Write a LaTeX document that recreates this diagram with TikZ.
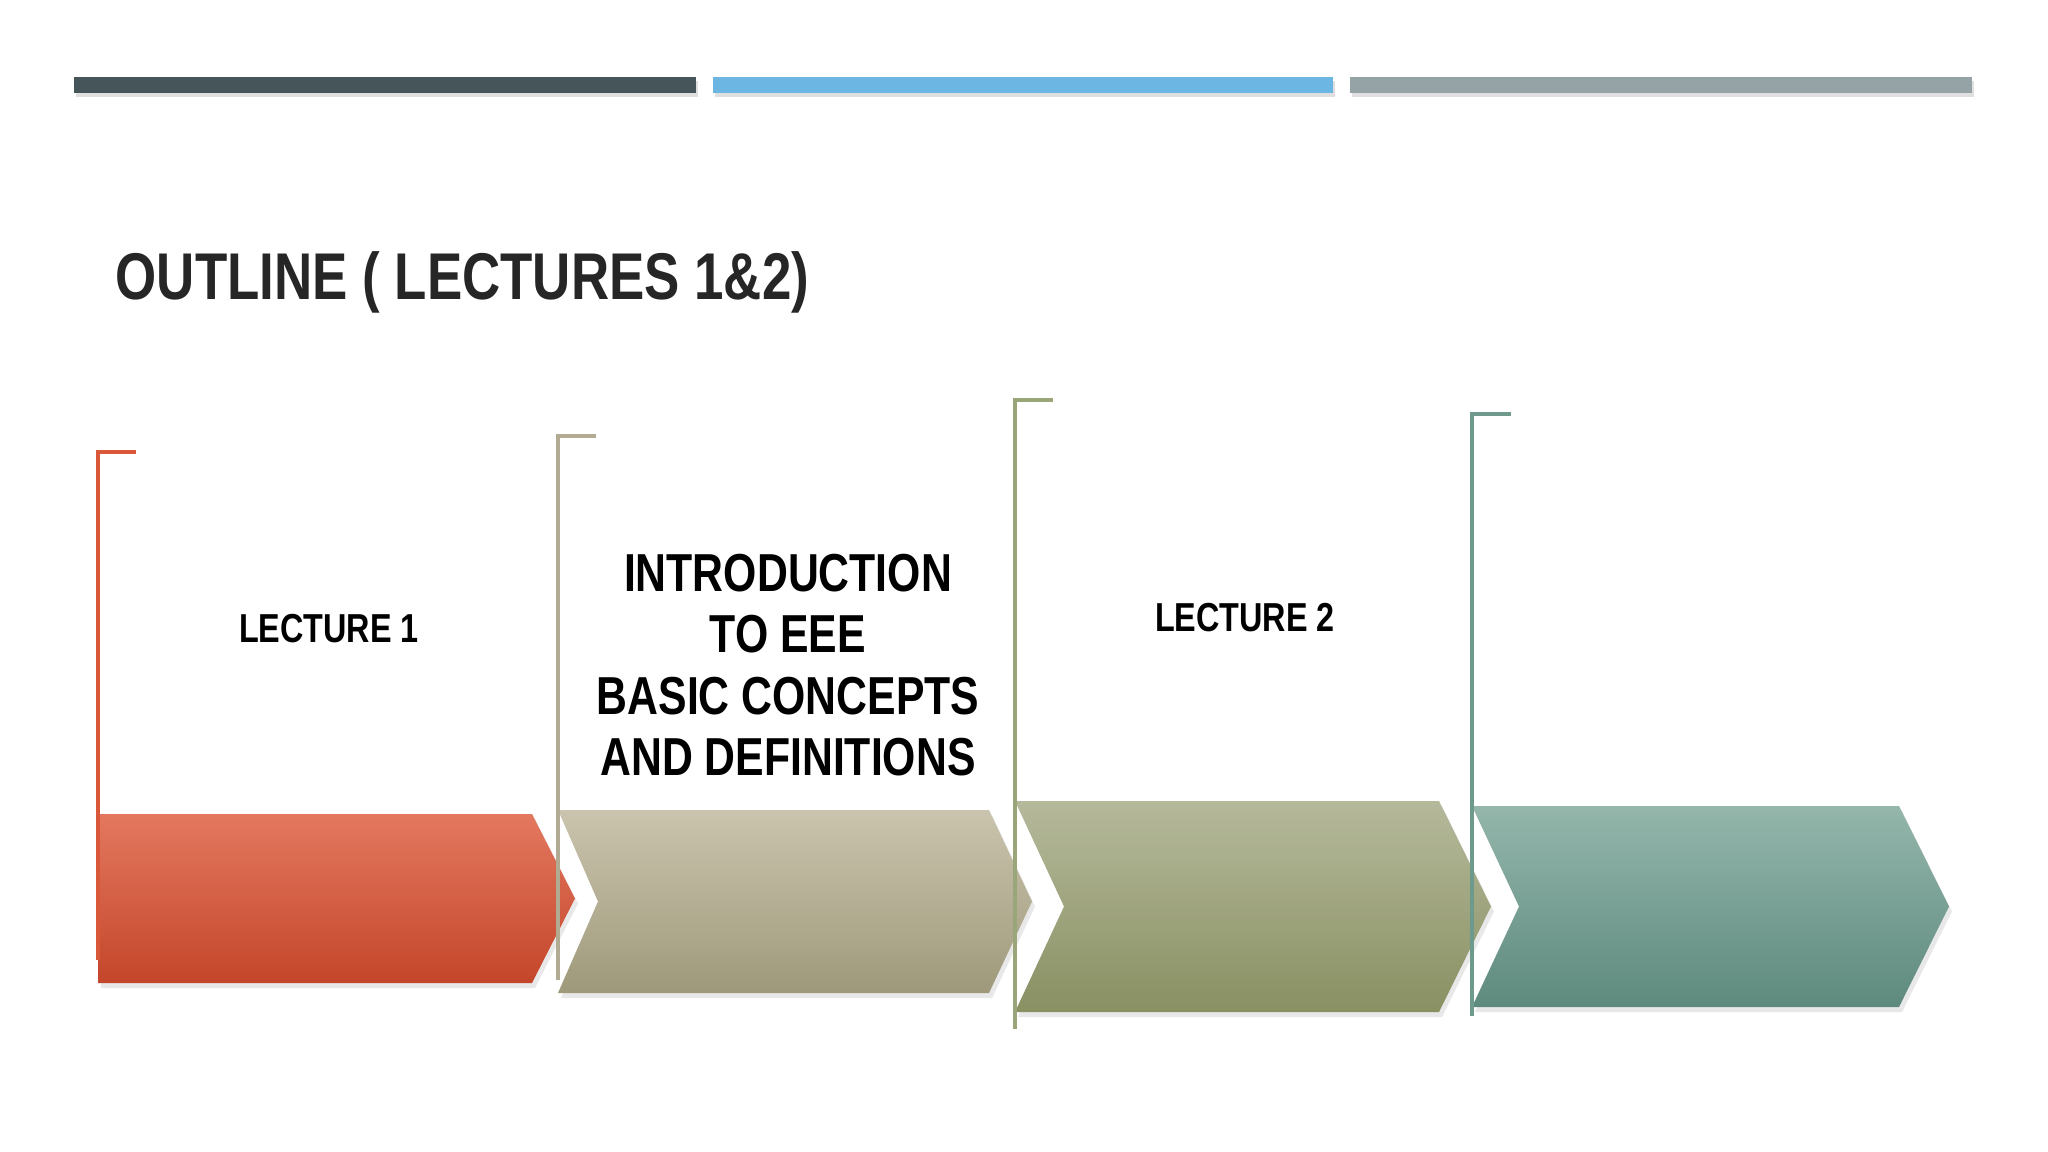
\documentclass[tikz,border=0pt]{standalone}
\usepackage{fontspec}
\setmainfont{Liberation Sans}
\newfontfamily\condfont[FakeStretch=0.8]{Liberation Sans}
\usetikzlibrary{shadows}
\definecolor{barA}{HTML}{46555A}
\definecolor{barB}{HTML}{6CB6E4}
\definecolor{barC}{HTML}{95A3A6}
\definecolor{titlecol}{HTML}{262626}
\definecolor{redT}{HTML}{E3785F}
\definecolor{redB}{HTML}{C4462A}
\definecolor{redL}{HTML}{D9583A}
\definecolor{tanT}{HTML}{CAC4AE}
\definecolor{tanB}{HTML}{9F997B}
\definecolor{tanL}{HTML}{B0AB92}
\definecolor{oliT}{HTML}{B5B99B}
\definecolor{oliB}{HTML}{899062}
\definecolor{oliL}{HTML}{9AA57A}
\definecolor{teaT}{HTML}{94B6AB}
\definecolor{teaB}{HTML}{5E8A7E}
\definecolor{teaL}{HTML}{6F998D}
\tikzset{
  topbar/.style={draw=none, drop shadow={opacity=0.25, shadow xshift=0.02cm, shadow yshift=-0.04cm}},
  chev/.style={draw=none, drop shadow={opacity=0.18, shadow xshift=0.03cm, shadow yshift=-0.05cm}},
  brk/.style={line width=1.1pt},
  lbl/.style={inner sep=0, align=center, text=black}
}
\begin{document}
\begin{tikzpicture}[x=0.01cm, y=0.01cm]
\useasboundingbox[fill=white] (0,0) rectangle (2048,-1152);
% top bars
\fill[barA, topbar] (74,-77) rectangle (696,-93);
\fill[barB, topbar] (713,-77) rectangle (1333,-93);
\fill[barC, topbar] (1350,-77) rectangle (1972,-93);
% title
\node[anchor=base west, inner sep=0, text=titlecol,
      font={\condfont\bfseries\fontsize{18.8}{22}\selectfont}] (title) at (115,-300)
  {OUTLINE ( LECTURES 1\&2)};
% chevrons
\path[chev, top color=redT, bottom color=redB]
  (98,-814) -- (532,-814) -- (575,-898.5) -- (532,-983) -- (98,-983) -- cycle;
\path[chev, top color=tanT, bottom color=tanB]
  (558,-810) -- (989,-810) -- (1032,-901.5) -- (989,-993) -- (558,-993) -- (598,-901.5) -- cycle;
\path[chev, top color=oliT, bottom color=oliB]
  (1015,-801) -- (1439,-801) -- (1491,-906.5) -- (1439,-1012) -- (1015,-1012) -- (1064,-906.5) -- cycle;
\path[chev, top color=teaT, bottom color=teaB]
  (1472,-806) -- (1899,-806) -- (1949,-906.5) -- (1899,-1007) -- (1472,-1007) -- (1519,-906.5) -- cycle;
% brackets
\draw[brk, redL] (136,-452) -- (98,-452) -- (98,-960);
\draw[brk, tanL] (596,-436) -- (558,-436) -- (558,-980);
\draw[brk, oliL] (1053,-400) -- (1015,-400) -- (1015,-1029);
\draw[brk, teaL] (1511,-414) -- (1472,-414) -- (1472,-1016);
% labels
\node[lbl, font={\condfont\bfseries\fontsize{11.5}{14}\selectfont}] (l1) at (329,-629) {LECTURE 1};
\node[lbl, font={\condfont\bfseries\fontsize{15.2}{17.5}\selectfont}] (intro) at (788,-665)
  {INTRODUCTION\\TO EEE\\BASIC CONCEPTS\\AND DEFINITIONS};
\node[lbl, font={\condfont\bfseries\fontsize{11.5}{14}\selectfont}] (l2) at (1245,-618) {LECTURE 2};
\end{tikzpicture}
\end{document}
